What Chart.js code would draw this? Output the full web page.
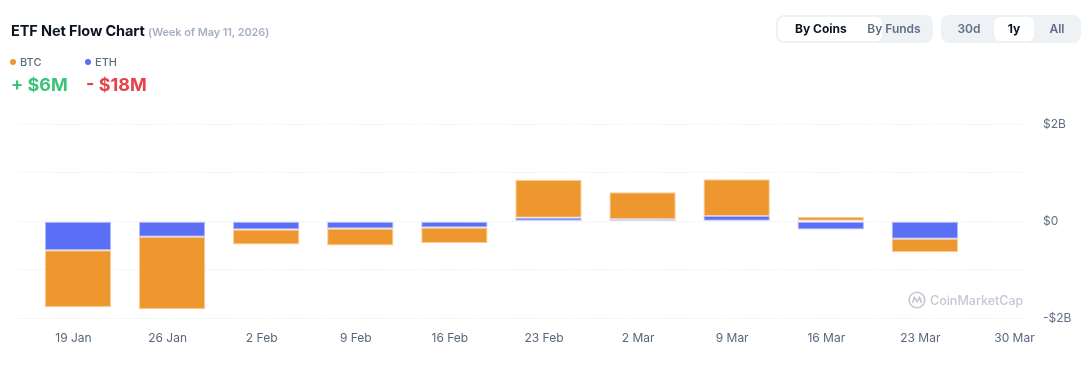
<!DOCTYPE html>
<html>
<head>
<meta charset="utf-8">
<script src="https://cdn.jsdelivr.net/npm/chart.js@4.4.1/dist/chart.umd.min.js"></script>
<style>
  html, body { margin:0; padding:0; background:#fff; width:1090px; height:365px; overflow:hidden; font-family: Inter, "Noto Sans", sans-serif; }
  #wrap { position:relative; width:1090px; height:365px; }
  canvas { position:absolute; left:0; top:0; }
  .abs { position:absolute; white-space:nowrap; }
  #title { left:11px; top:22px; font-size:14.5px; font-weight:700; color:#0d1421; letter-spacing:-0.1px; }
  #title span { font-size:11px; font-weight:600; color:#a6b0c3; margin-left:0px; }
  .leg { top:55px; font-size:11px; font-weight:500; color:#616e85; }
  .dot { display:inline-block; width:6px; height:6px; border-radius:50%; margin-right:4px; vertical-align:1px; }
  .val { top:74px; font-size:18px; font-weight:700; }
  .grp { top:15px; height:28px; background:#eff2f5; border-radius:8px; }
  .btn { position:absolute; top:2px; height:24px; line-height:24px; text-align:center; font-size:12px; font-weight:600; color:#616e85; border-radius:6px; }
  .btn.on { background:#fff; color:#0d1421; font-weight:700; }
  #wm { left:908px; top:291px; font-size:12.5px; font-weight:500; color:#c3c8d2; display:flex; align-items:center; gap:4px; }
</style>
</head>
<body>
<div id="wrap">
  <canvas id="c" width="1090" height="365"></canvas>
  <div class="abs" id="title">ETF Net Flow Chart <span>(Week of May 11, 2026)</span></div>
  <div class="abs leg" style="left:10px"><span class="dot" style="background:#ef972f"></span>BTC</div>
  <div class="abs leg" style="left:85px"><span class="dot" style="background:#5a6ff5"></span>ETH</div>
  <div class="abs val" style="left:11px;color:#3cc37a">+ $6M</div>
  <div class="abs val" style="left:86px;color:#e5424c">- $18M</div>
  <div class="abs grp" style="left:776px;width:157px">
    <div class="btn on" style="left:2px;width:104px;text-align:left;box-sizing:border-box;padding-left:17px">By Coins</div>
    <div class="btn" style="left:88px;width:60px">By Funds</div>
  </div>
  <div class="abs grp" style="left:941px;width:140px">
    <div class="btn" style="left:8px;width:40px">30d</div>
    <div class="btn on" style="left:53px;width:40px">1y</div>
    <div class="btn" style="left:96px;width:40px">All</div>
  </div>
  <div class="abs" id="wm">
    <svg width="18" height="18" viewBox="0 0 18 18"><circle cx="9" cy="9" r="7.8" fill="none" stroke="#c3c8d2" stroke-width="1.6"/><path d="M4.5 12 L6.5 6 L9 11 L11.5 6 L13.5 12" fill="none" stroke="#c3c8d2" stroke-width="1.6" stroke-linejoin="round"/></svg>
    <span>CoinMarketCap</span>
  </div>
</div>
<script>
const categories = ['19 Jan','26 Jan','2 Feb','9 Feb','16 Feb','23 Feb','2 Mar','9 Mar','16 Mar','23 Mar','30 Mar'];
// values in billions of USD
const ethValues = [-0.60, -0.32, -0.17, -0.15, -0.13, 0.07, 0.04, 0.11, -0.17, -0.36, null];
const btcValues = [-1.18, -1.50, -0.31, -0.35, -0.32, 0.79, 0.56, 0.76, 0.09, -0.28, null];
const yTickLabels = {'2':'$2B','0':'$0','-2':'-$2B'};

const toPts = arr => arr.map((v,i) => ({x:i, y:v}));

new Chart(document.getElementById('c'), {
  type: 'bar',
  data: {
    datasets: [
      { label:'ETH', data: toPts(ethValues), backgroundColor:'#5a6ff5', borderColor:'rgba(170,182,250,0.9)', borderWidth:1, borderSkipped:false },
      { label:'BTC', data: toPts(btcValues), backgroundColor:'#ef972f', borderColor:'rgba(248,204,150,0.95)', borderWidth:1, borderSkipped:false }
    ]
  },
  options: {
    responsive:false, animation:false,
    layout:{ padding:{ left:18, top:124.5, right:0, bottom:0 } },
    plugins:{ legend:{display:false}, tooltip:{enabled:false} },
    datasets:{ bar:{ barPercentage:0.705, categoryPercentage:1 } },
    scales:{
      x:{
        type:'linear', stacked:true, min:-0.6376, max:10.096, offset:false,
        grid:{ display:false, drawTicks:false, offset:false }, border:{display:false},
        afterBuildTicks: ax => { ax.ticks = categories.map((_,i)=>({value:i})); },
        afterFit: ax => { ax.height = 47; },
        ticks:{ padding:13, labelOffset:-4.5, autoSkip:false, maxRotation:0, color:'#58667e',
          font:{ family:'Inter', size:12 },
          callback: v => categories[v] }
      },
      y:{
        position:'right', stacked:true, min:-2, max:2,
        afterFit: ax => { ax.width = 62; },
        grid:{ color:'#e3e6eb', lineWidth:1, drawTicks:false },
        border:{ display:false, dash:[1.2,2.6] },
        ticks:{ stepSize:1, padding:15, color:'#616e85', font:{ family:'Inter', size:12 },
          callback: v => yTickLabels[String(v)] || '' }
      }
    }
  }
});
</script>
</body>
</html>
